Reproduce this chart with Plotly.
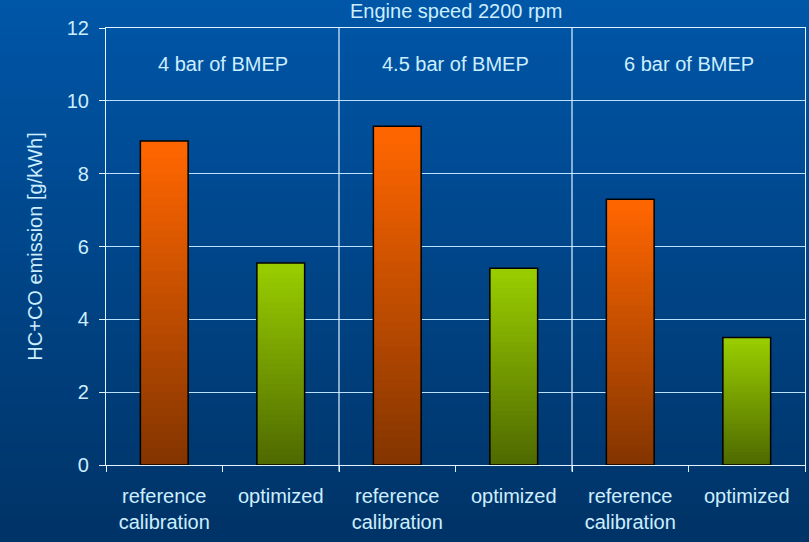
import plotly.graph_objects as go

# data (empty spans only keep the category keys unique)
categories = ["reference<br>calibration", "optimized",
              "reference<br>calibration<span></span>", "optimized<span></span>",
              "reference<br>calibration<span></span><span></span>",
              "optimized<span></span><span></span>"]
emission = [8.9, 5.55, 9.3, 5.4, 7.3, 3.5]
bar_kind = ["ref", "opt", "ref", "opt", "ref", "opt"]
group_labels = ["4 bar of BMEP", "4.5 bar of BMEP", "6 bar of BMEP"]
y_ticks = [0, 2, 4, 6, 8, 10, 12]

txt = "#CCEEFF"
font = "Liberation Sans, Arial, sans-serif"
fs = 20

# gradient end colours (bottom, top)
grad = {"ref": ((0x7F, 0x33, 0x00), (0xFF, 0x66, 0x00)),
        "opt": ((0x4C, 0x66, 0x00), (0x99, 0xCC, 0x00))}


def mix(c0, c1, t):
    return "rgb(%d,%d,%d)" % tuple(round(a + (b - a) * t) for a, b in zip(c0, c1))


fig = go.Figure()

# bars drawn as overlapping slices to get the vertical gradient
n = 40
for i in range(n):
    t = (i + 0.5) / n
    fig.add_trace(go.Bar(
        x=categories,
        y=[2 * v / n for v in emission],
        base=[v * (i - 1) / n for v in emission],
        marker=dict(color=[mix(*grad[k], t) for k in bar_kind], line=dict(width=0)),
        width=0.41, hoverinfo="skip", showlegend=False))

# black outline on top
fig.add_trace(go.Bar(
    x=categories, y=emission, width=0.41,
    marker=dict(color="rgba(0,0,0,0)", line=dict(color="black", width=1.5)),
    showlegend=False))

# background gradient
top_c, bot_c = (0x00, 0x56, 0xA8), (0x00, 0x33, 0x66)
y_lo, y_hi = -77 / 437, 1 + 28 / 437
m = 60
shapes = []
for i in range(m):
    a = y_lo + (y_hi - y_lo) * i / m
    b = y_lo + (y_hi - y_lo) * (i + 1) / m
    shapes.append(dict(type="rect", xref="paper", yref="paper",
                       x0=-0.2, x1=1.1, y0=a, y1=b + 0.003,
                       fillcolor=mix(bot_c, top_c, (i + 0.5) / m),
                       line=dict(width=0), layer="below"))

# group separators
for xs in (1.5, 3.5):
    shapes.append(dict(type="line", xref="x", yref="paper", x0=xs, x1=xs,
                       y0=-0.015, y1=1, line=dict(color="#E0F4FF", width=1.2)))

annotations = [dict(x=gi * 2 + 0.5, y=11, xref="x", yref="y", text=g,
                    showarrow=False, font=dict(size=fs, color=txt, family=font))
               for gi, g in enumerate(group_labels)]
annotations.append(dict(x=0.5, y=1.0, xref="paper", yref="paper",
                        text="Engine speed 2200 rpm", showarrow=False,
                        yanchor="bottom", yshift=4,
                        font=dict(size=fs, color=txt, family=font)))

fig.update_layout(
    width=809, height=542,
    margin=dict(l=106, r=4, t=28, b=77),
    barmode="overlay",
    paper_bgcolor="#003366",
    plot_bgcolor="rgba(0,0,0,0)",
    shapes=shapes,
    annotations=annotations,
    font=dict(family=font, color=txt, size=fs),
    xaxis=dict(type="category", tickson="boundaries", ticks="outside",
               ticklen=6, tickcolor="#E0F4FF", showline=True, mirror=True,
               linecolor="#E0F4FF", linewidth=1.2, showgrid=False,
               ticklabelstandoff=13,
               tickfont=dict(size=fs, color=txt)),
    yaxis=dict(range=[0, 12], tickvals=y_ticks, ticks="outside", ticklen=6,
               tickcolor="#E0F4FF", showline=True, mirror=True,
               linecolor="#E0F4FF", linewidth=1.2, gridcolor="#B8E0FF",
               gridwidth=1, zeroline=False, ticklabelstandoff=6,
               tickfont=dict(size=fs, color=txt),
               title=dict(text="HC+CO emission [g/kWh]", standoff=18,
                          font=dict(size=fs, color=txt))),
)

fig.write_html("out.html", config={"displayModeBar": False},
               post_script="document.body.style.margin='0';")
